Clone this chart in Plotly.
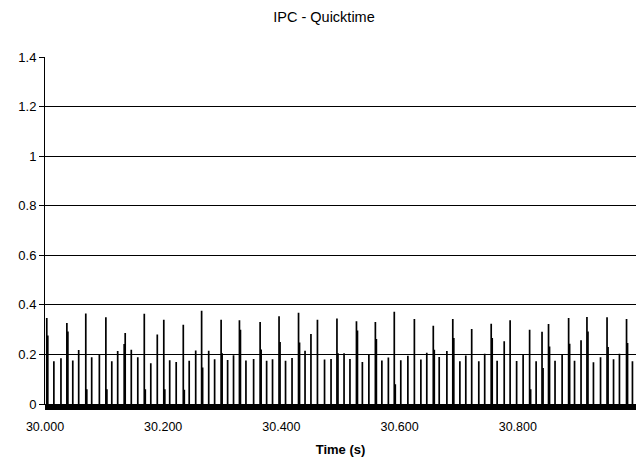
import plotly.graph_objects as go

# Spike times (seconds)
spike_t = [30.003, 30.015, 30.027, 30.037, 30.047, 30.057, 30.069, 30.079, 30.092, 30.103,
           30.113, 30.123, 30.134, 30.146, 30.157, 30.168, 30.179, 30.190, 30.201, 30.211,
           30.222, 30.234, 30.244, 30.255, 30.265, 30.277, 30.287, 30.298, 30.309, 30.319,
           30.329, 30.340, 30.353, 30.364, 30.375, 30.385, 30.396, 30.407, 30.418, 30.429,
           30.440, 30.450, 30.461, 30.473, 30.484, 30.494, 30.506, 30.516, 30.527, 30.537,
           30.548, 30.559, 30.570, 30.581, 30.591, 30.602, 30.614, 30.625, 30.636, 30.646,
           30.657, 30.667, 30.680, 30.690, 30.702, 30.712, 30.722, 30.734, 30.744, 30.755,
           30.765, 30.777, 30.787, 30.798, 30.809, 30.820, 30.831, 30.841, 30.852, 30.863,
           30.875, 30.886, 30.896, 30.907, 30.917, 30.928, 30.940, 30.951, 30.962, 30.972,
           30.984, 30.994]
# Peak IPC value of each spike
spike_h = [0.347, 0.172, 0.185, 0.327, 0.176, 0.218, 0.365, 0.189, 0.199, 0.350,
           0.172, 0.214, 0.242, 0.219, 0.189, 0.364, 0.164, 0.280, 0.340, 0.177,
           0.169, 0.320, 0.174, 0.216, 0.376, 0.215, 0.181, 0.340, 0.178, 0.197,
           0.338, 0.176, 0.182, 0.331, 0.174, 0.181, 0.354, 0.174, 0.186, 0.368,
           0.215, 0.282, 0.340, 0.180, 0.182, 0.345, 0.205, 0.182, 0.334, 0.169,
           0.199, 0.331, 0.176, 0.188, 0.372, 0.177, 0.195, 0.343, 0.180, 0.207,
           0.316, 0.190, 0.214, 0.343, 0.172, 0.196, 0.303, 0.172, 0.203, 0.324,
           0.174, 0.253, 0.338, 0.173, 0.201, 0.300, 0.172, 0.291, 0.323, 0.174,
           0.201, 0.347, 0.174, 0.257, 0.351, 0.168, 0.189, 0.350, 0.181, 0.203,
           0.343, 0.172]
# Value of the sample right after each peak
after_h = [0.276, 0.0, 0.0, 0.293, 0.0, 0.0, 0.060, 0.0, 0.0, 0.060,
           0.0, 0.0, 0.286, 0.0, 0.0, 0.060, 0.0, 0.0, 0.060, 0.0,
           0.0, 0.057, 0.0, 0.0, 0.147, 0.0, 0.0, 0.205, 0.0, 0.0,
           0.300, 0.0, 0.0, 0.220, 0.0, 0.0, 0.250, 0.0, 0.0, 0.248,
           0.0, 0.0, 0.0, 0.0, 0.0, 0.205, 0.0, 0.0, 0.297, 0.0,
           0.0, 0.262, 0.0, 0.0, 0.080, 0.0, 0.0, 0.0, 0.0, 0.0,
           0.219, 0.0, 0.0, 0.266, 0.0, 0.0, 0.0, 0.0, 0.0, 0.266,
           0.0, 0.0, 0.0, 0.0, 0.0, 0.060, 0.0, 0.145, 0.232, 0.0,
           0.0, 0.243, 0.0, 0.0, 0.293, 0.0, 0.0, 0.230, 0.0, 0.0,
           0.246, 0.0]

x_ticks = [30.0, 30.2, 30.4, 30.6, 30.8]
x_labels = ["30.000", "30.200", "30.400", "30.600", "30.800"]

# each sample drawn as a thin vertical stroke from the baseline
gap = 0.0017
xs, ys = [], []
for t, h, a in zip(spike_t, spike_h, after_h):
    xs += [t, t, t, None]
    ys += [0.0, h, 0.0, None]
    if a > 0:
        xs += [t + gap, t + gap, t + gap, None]
        ys += [0.0, a, 0.0, None]

fig = go.Figure(go.Scatter(x=xs, y=ys, mode="lines", connectgaps=False,
                           line=dict(color="black", width=1.7), hoverinfo="skip"))

font = dict(family="Liberation Sans, Arial, sans-serif", size=12, color="black")
fig.update_layout(
    width=636, height=459,
    margin=dict(l=45, r=0, t=57, b=55),
    paper_bgcolor="white", plot_bgcolor="white",
    font=font, showlegend=False,
    title=dict(text="IPC - Quicktime", x=324 / 636, xref="container", xanchor="center",
               y=1 - 17 / 459, yref="container", yanchor="middle",
               font=dict(size=14.5)),
)
fig.update_xaxes(
    range=[30.0, 31.0], tickvals=x_ticks, ticktext=x_labels,
    showgrid=False, zeroline=False, showline=True, linecolor="black", linewidth=1,
    ticks="outside", ticklen=5, tickcolor="black",
    minor=dict(ticks="outside", ticklen=5, dtick=0.0012, tickcolor="black", tickwidth=1),
    ticklabelstandoff=6, tickfont=dict(size=12.5),
    title=dict(text="<b>Time (s)</b>", font=dict(size=13), standoff=11),
)
fig.update_yaxes(
    range=[0, 1.4], dtick=0.2, tick0=0,
    showgrid=True, gridcolor="black", gridwidth=1,
    zeroline=False, showline=True, linecolor="black", linewidth=1,
    ticks="outside", ticklen=5, tickcolor="black", tickfont=dict(size=13),
)
fig.write_html("out.html", config={"displayModeBar": False},
               post_script="document.body.style.margin='0px';")
